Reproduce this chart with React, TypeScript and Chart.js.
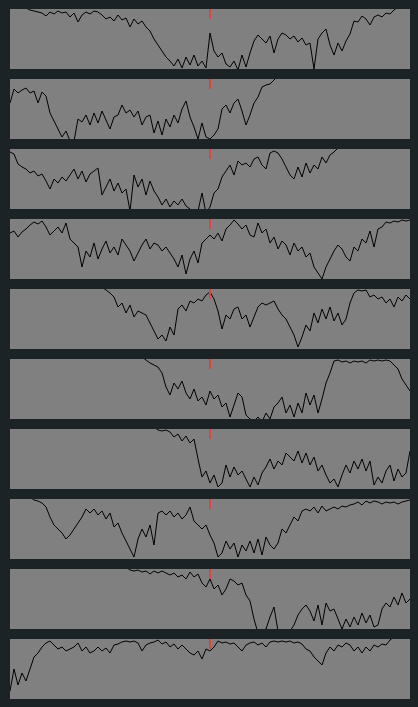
import React, { useEffect, useRef } from "react";
import { Chart, registerables } from "chart.js";

Chart.register(...registerables);

// 101 time steps (0..100), marker at step 50; values are height within panel (0..60)
const STEPS = 101;
const MARKER_STEP = 50;
const N = null;

const panel1 = [64,63,63,62,61,59,58,57,56,53,57,55,58,56,57,52,56,47,54,57,55,58,57,54,50,52,48,54,49,51,42,50,45,48,42,38,30,24,18,12,8,3,10,1,12,4,14,3,8,1,36,18,12,16,5,2,8,-1,14,2,16,28,34,30,26,33,16,30,36,34,30,33,27,31,24,26,0,30,36,40,24,14,26,18,28,35,48,47,53,50,44,52,54,52,56,55,59,62,63,64,65];
const panel2 = [36,50,46,49,51,46,48,36,47,43,26,18,10,2,8,-2,-2,20,17,24,14,26,16,28,19,10,22,24,34,26,29,22,28,14,22,24,6,18,4,20,12,24,16,30,38,22,12,0,16,2,0,4,10,30,34,26,36,40,28,14,24,36,42,52,54,55,59,63,N,N,N,N,N,N,N,N,N,N,N,N,N,N,N,N,N,N,N,N,N,N,N,N,N,N,N,N,N,N,N,N,N];
const panel3 = [57,55,45,42,40,36,38,33,35,28,20,30,26,32,28,34,40,30,38,27,35,38,41,14,22,30,18,26,16,20,-2,34,22,30,14,28,18,12,4,10,2,8,4,10,3,0,-6,-2,16,-4,2,16,20,32,38,44,34,48,44,46,42,50,52,44,40,56,58,56,50,42,34,30,42,32,46,36,44,40,52,46,54,57,61,63,N,N,N,N,N,N,N,N,N,N,N,N,N,N,N,N,N];
const panel4 = [46,48,42,47,50,54,57,55,58,52,44,48,52,46,56,40,36,32,12,28,22,36,20,30,38,26,32,24,40,34,28,18,26,34,40,30,36,34,28,32,26,20,12,24,5,20,28,16,36,40,44,40,46,38,50,54,59,55,50,54,44,42,56,46,50,36,42,30,38,34,24,36,28,32,22,26,12,6,0,12,20,28,34,30,22,18,32,28,40,36,48,32,50,52,57,56,58,57,59,58,59];
const panel5 = [N,N,N,N,N,N,N,N,N,N,N,N,N,N,N,N,N,N,N,N,N,N,N,62,59,56,52,42,46,36,44,32,38,36,34,26,18,10,14,8,22,14,40,44,38,48,46,50,48,54,57,50,38,20,34,30,40,42,30,34,22,32,42,46,44,46,48,40,34,30,22,14,2,12,24,18,36,26,40,30,42,28,36,24,30,46,56,59,58,59,52,54,50,52,46,50,42,52,48,54,50];
const panel6 = [N,N,N,N,N,N,N,N,N,N,N,N,N,N,N,N,N,N,N,N,N,N,N,N,N,N,N,N,N,N,N,N,N,62,59,56,54,52,46,32,24,36,30,38,26,20,30,18,22,14,28,20,24,12,16,2,14,26,22,4,0,-2,2,-3,6,0,12,16,22,6,14,2,16,6,26,14,24,6,20,36,46,58,59,57,58,56,58,57,58,56,59,58,59,58,59,58,54,50,40,34,28];
const panel7 = [N,N,N,N,N,N,N,N,N,N,N,N,N,N,N,N,N,N,N,N,N,N,N,N,N,N,N,N,N,N,N,N,N,N,N,N,62,59,58,59,57,52,55,48,53,46,50,30,12,18,6,14,2,6,24,12,22,14,18,10,2,12,4,16,22,30,20,28,24,36,32,28,38,26,36,24,32,18,24,14,6,10,2,14,24,16,28,20,30,18,28,4,12,6,18,24,8,20,12,16,38];
const panel8 = [N,N,N,N,N,62,59,58,56,52,42,34,30,26,20,24,30,36,42,50,46,50,44,48,40,46,32,36,26,18,10,2,20,30,22,34,14,46,48,44,48,42,46,40,44,52,38,34,30,34,24,16,2,6,18,10,16,2,14,8,18,6,20,4,22,14,10,16,30,26,34,42,38,48,50,48,52,46,53,48,50,52,50,53,52,54,55,57,54,58,56,58,57,55,57,56,57,55,57,58,59];
const panel9 = [N,N,N,N,N,N,N,N,N,N,N,N,N,N,N,N,N,N,N,N,N,N,N,N,N,N,N,N,N,62,59,58,59,57,58,55,58,56,58,56,54,56,52,54,50,57,52,55,46,42,50,40,44,34,40,50,48,44,46,34,28,10,-4,-2,0,12,22,-2,-6,-4,-2,4,14,20,24,18,8,24,4,26,18,20,10,0,10,2,12,4,16,6,14,2,4,20,26,22,32,24,36,26,30];
const panel10 = [8,30,14,26,18,30,42,46,52,56,58,54,50,52,48,50,52,56,48,52,46,48,52,48,51,46,54,55,57,58,57,58,56,48,54,56,57,59,55,57,52,55,50,54,50,46,44,48,40,50,48,52,58,56,57,55,56,52,48,54,56,57,54,56,52,57,58,57,58,57,58,56,57,55,50,48,42,38,34,46,52,48,54,52,56,54,48,52,46,52,48,54,52,55,54,59,62,N,N,N,N];

const PANELS = [panel1, panel2, panel3, panel4, panel5, panel6, panel7, panel8, panel9, panel10];
const Y_MIN = 0;
const Y_MAX = 60;
const MARKER_FROM = 60;
const MARKER_TO = 50;

const BG = "#1b2327";
const PANEL_BG = "#808080";
const LINE_COLOR = "#000000";
const MARKER_COLOR = "#d9463f";

function Panel({ values }: { values: (number | null)[] }) {
  const ref = useRef<HTMLCanvasElement | null>(null);
  useEffect(() => {
    if (!ref.current) return;
    const chart = new Chart(ref.current, {
      type: "line",
      data: {
        datasets: [
          {
            data: [
              { x: MARKER_STEP, y: MARKER_FROM },
              { x: MARKER_STEP, y: MARKER_TO },
            ],
            borderColor: MARKER_COLOR,
            borderWidth: 2,
            pointRadius: 0,
            fill: false,
          },
          {
            data: values.map((v, i) => ({ x: i, y: v as any })),
            borderColor: LINE_COLOR,
            borderWidth: 1,
            pointRadius: 0,
            tension: 0,
            fill: false,
            spanGaps: false,
          },
        ],
      },
      options: {
        responsive: false,
        animation: false,
        maintainAspectRatio: false,
        layout: { padding: 0 },
        plugins: { legend: { display: false }, tooltip: { enabled: false } },
        events: [],
        scales: {
          x: { type: "linear", min: 0, max: STEPS - 1, display: false },
          y: { type: "linear", min: Y_MIN, max: Y_MAX, display: false },
        },
      },
    });
    return () => chart.destroy();
  }, [values]);
  return (
    <canvas
      ref={ref}
      width={400}
      height={60}
      style={{ display: "block", width: 400, height: 60, background: PANEL_BG }}
    />
  );
}

export default function App() {
  useEffect(() => {
    document.body.style.margin = "0";
    document.body.style.background = BG;
  }, []);
  return (
    <div style={{ position: "relative", width: 418, height: 707, background: BG, overflow: "hidden" }}>
      {PANELS.map((p, i) => (
        <div key={i} style={{ position: "absolute", left: 10, top: 9 + 70 * i, width: 400, height: 60 }}>
          <Panel values={p} />
        </div>
      ))}
    </div>
  );
}
